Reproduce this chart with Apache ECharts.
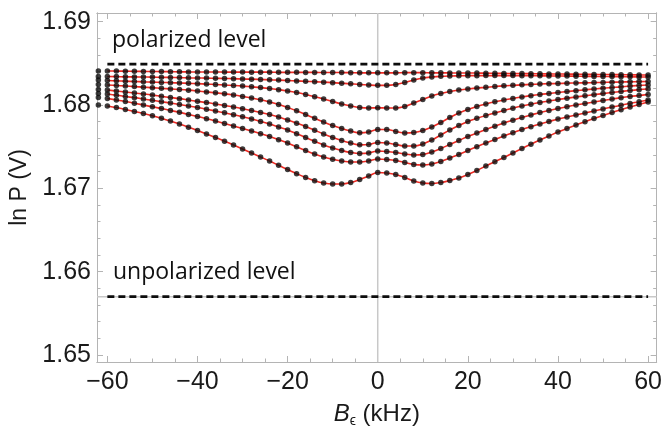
<!DOCTYPE html>
<html><head><meta charset="utf-8">
<script src="https://cdn.jsdelivr.net/npm/echarts@6/dist/echarts.min.js"></script>
<style>html,body{margin:0;padding:0;background:#fff}#c{width:665px;height:433px}</style>
</head><body><div id="c"></div>
<script>
// B_epsilon field values (kHz) of the data points
const fieldKHz = [-62,-60,-58,-56,-54,-52,-50,-48,-46,-44,-42,-40,-38,-36,-34,-32,-30,-28,-26,-24,-22,-20,-18,-16,-14,-12,-10,-8,-6,-4,-2,0,2,4,6,8,10,12,14,16,18,20,22,24,26,28,30,32,34,36,38,40,42,44,46,48,50,52,54,56,58,60,62];

// ln P (V) curves, top to bottom
const curveA = [1.68408,1.68408,1.68407,1.68406,1.68404,1.68403,1.68402,1.68401,1.68400,1.68398,1.68397,1.68396,1.68396,1.68396,1.68395,1.68395,1.68395,1.68394,1.68394,1.68394,1.68392,1.68392,1.68392,1.68391,1.68391,1.68390,1.68390,1.68389,1.68388,1.68386,1.68386,1.68386,1.68386,1.68386,1.68388,1.68388,1.68388,1.68386,1.68386,1.68385,1.68384,1.68384,1.68383,1.68382,1.68380,1.68379,1.68378,1.68377,1.68376,1.68374,1.68373,1.68372,1.68371,1.68370,1.68368,1.68367,1.68366,1.68365,1.68364,1.68362,1.68361,1.68360,1.68360];
const curveB = [1.68342,1.68342,1.68341,1.68338,1.68337,1.68336,1.68335,1.68332,1.68331,1.68329,1.68326,1.68324,1.68323,1.68320,1.68318,1.68316,1.68312,1.68310,1.68306,1.68302,1.68299,1.68294,1.68289,1.68284,1.68280,1.68274,1.68268,1.68262,1.68254,1.68246,1.68240,1.68236,1.68236,1.68246,1.68270,1.68300,1.68324,1.68336,1.68344,1.68348,1.68350,1.68352,1.68352,1.68353,1.68353,1.68353,1.68353,1.68352,1.68352,1.68350,1.68349,1.68348,1.68347,1.68346,1.68344,1.68343,1.68342,1.68341,1.68340,1.68338,1.68337,1.68336,1.68336];
const curveC = [1.68300,1.68294,1.68290,1.68286,1.68282,1.68278,1.68275,1.68271,1.68268,1.68264,1.68260,1.68256,1.68251,1.68246,1.68240,1.68234,1.68227,1.68218,1.68209,1.68198,1.68184,1.68168,1.68149,1.68126,1.68100,1.68072,1.68042,1.68012,1.67988,1.67970,1.67964,1.67966,1.67964,1.67964,1.67982,1.68024,1.68066,1.68108,1.68138,1.68162,1.68180,1.68192,1.68203,1.68212,1.68222,1.68230,1.68236,1.68242,1.68247,1.68252,1.68256,1.68258,1.68262,1.68264,1.68266,1.68269,1.68271,1.68274,1.68276,1.68278,1.68281,1.68282,1.68284];
const curveD = [1.68246,1.68240,1.68234,1.68228,1.68221,1.68214,1.68208,1.68200,1.68193,1.68186,1.68178,1.68168,1.68157,1.68146,1.68134,1.68120,1.68103,1.68084,1.68062,1.68036,1.68006,1.67970,1.67930,1.67886,1.67840,1.67796,1.67754,1.67718,1.67688,1.67666,1.67676,1.67706,1.67706,1.67682,1.67664,1.67670,1.67694,1.67736,1.67790,1.67850,1.67904,1.67946,1.67982,1.68012,1.68038,1.68060,1.68079,1.68096,1.68112,1.68126,1.68138,1.68150,1.68161,1.68172,1.68182,1.68192,1.68202,1.68210,1.68218,1.68228,1.68234,1.68240,1.68246];
const curveE = [1.68186,1.68180,1.68168,1.68156,1.68144,1.68132,1.68119,1.68104,1.68090,1.68076,1.68060,1.68044,1.68029,1.68012,1.67994,1.67976,1.67956,1.67934,1.67911,1.67886,1.67856,1.67820,1.67782,1.67742,1.67698,1.67652,1.67610,1.67574,1.67544,1.67522,1.67526,1.67550,1.67544,1.67526,1.67508,1.67508,1.67532,1.67580,1.67640,1.67700,1.67754,1.67802,1.67840,1.67874,1.67904,1.67934,1.67962,1.67988,1.68010,1.68030,1.68048,1.68066,1.68082,1.68096,1.68110,1.68124,1.68137,1.68150,1.68162,1.68174,1.68184,1.68192,1.68198];
const curveF = [1.68138,1.68132,1.68118,1.68102,1.68088,1.68072,1.68056,1.68040,1.68023,1.68006,1.67988,1.67970,1.67950,1.67928,1.67906,1.67884,1.67858,1.67832,1.67803,1.67772,1.67736,1.67700,1.67656,1.67610,1.67564,1.67520,1.67484,1.67454,1.67430,1.67418,1.67424,1.67448,1.67442,1.67430,1.67412,1.67400,1.67406,1.67436,1.67478,1.67526,1.67574,1.67622,1.67664,1.67706,1.67746,1.67784,1.67818,1.67850,1.67880,1.67910,1.67935,1.67958,1.67980,1.68000,1.68018,1.68036,1.68054,1.68072,1.68088,1.68102,1.68114,1.68126,1.68132];
const curveG = [1.68090,1.68078,1.68060,1.68042,1.68022,1.68000,1.67978,1.67958,1.67935,1.67912,1.67887,1.67862,1.67836,1.67808,1.67778,1.67748,1.67718,1.67688,1.67656,1.67622,1.67584,1.67544,1.67498,1.67454,1.67412,1.67376,1.67348,1.67328,1.67316,1.67316,1.67328,1.67352,1.67346,1.67334,1.67310,1.67286,1.67280,1.67292,1.67322,1.67364,1.67406,1.67454,1.67500,1.67544,1.67586,1.67628,1.67668,1.67706,1.67740,1.67772,1.67802,1.67832,1.67856,1.67880,1.67904,1.67928,1.67952,1.67976,1.67998,1.68018,1.68040,1.68060,1.68072];
const curveH = [1.68000,1.67988,1.67969,1.67946,1.67923,1.67898,1.67870,1.67840,1.67808,1.67772,1.67734,1.67694,1.67652,1.67610,1.67566,1.67520,1.67472,1.67424,1.67376,1.67328,1.67276,1.67226,1.67176,1.67130,1.67092,1.67064,1.67052,1.67052,1.67070,1.67106,1.67148,1.67190,1.67184,1.67166,1.67130,1.67088,1.67064,1.67058,1.67070,1.67094,1.67124,1.67166,1.67214,1.67268,1.67320,1.67370,1.67424,1.67478,1.67530,1.67580,1.67628,1.67676,1.67719,1.67760,1.67800,1.67838,1.67874,1.67910,1.67944,1.67976,1.68006,1.68036,1.68054];

const polarizedLevel = 1.6849;
const unpolarizedLevel = 1.6570;
const levelSpanKHz = [-60, 60];
const axisOriginY = 1.6570;

const xTicksMajor = [-60,-40,-20,0,20,40,60];
const xTicksMinor = [-55,-50,-45,-35,-30,-25,-15,-10,-5,5,10,15,25,30,35,45,50,55];
const yTicksMajor = [1.65,1.66,1.67,1.68,1.69];
const yTicksMinor = [1.652,1.654,1.656,1.658,1.662,1.664,1.666,1.668,1.672,1.674,1.676,1.678,1.682,1.684,1.686,1.688,1.69];

const curves = [curveA,curveB,curveC,curveD,curveE,curveF,curveG,curveH];
const XMIN = -62.3, XMAX = 61.9, YMIN = 1.64916, YMAX = 1.69104;
const frame = '#b4b4b4';
const zip = (xs, ys) => xs.map((x, i) => [x, ys[i]]);

const chart = echarts.init(document.getElementById('c'), null, {renderer:'canvas'});
const FF = 'Liberation Sans, Arial, sans-serif';
function xAx(pos, ticks, len, labels) {
  return {type:'value', min:XMIN, max:XMAX, position:pos,
    axisLine:{show:true, onZero:false, lineStyle:{color:frame, width:1}},
    axisTick:{show:true, inside:true, length:len, customValues:ticks, lineStyle:{color:frame}},
    axisLabel: labels ? {show:true, customValues:ticks, margin:8, fontFamily:FF, fontSize:25, color:'#1a1a1a',
      formatter:v => v < 0 ? '\u2212' + Math.abs(v) : String(v)} : {show:false},
    splitLine:{show:false}};
}
function yAx(pos, ticks, len, labels) {
  return {type:'value', min:YMIN, max:YMAX, position:pos,
    axisLine:{show:true, onZero:false, lineStyle:{color:frame, width:1}},
    axisTick:{show:true, inside:true, length:len, customValues:ticks, lineStyle:{color:frame}},
    axisLabel: labels ? {show:true, customValues:ticks, margin:6, fontFamily:FF, fontSize:25, color:'#1a1a1a',
      formatter:v => v.toFixed(2)} : {show:false},
    splitLine:{show:false}};
}
const xMain = xAx('bottom', xTicksMajor, 6, true);
xMain.name = '{i|B}{s|\u03f5} (kHz)';
xMain.nameLocation = 'middle';
xMain.nameGap = 35;
xMain.nameTextStyle = {fontFamily:FF, fontSize:24, color:'#1a1a1a', lineHeight:28,
  rich:{i:{fontStyle:'italic', fontSize:24, fontFamily:FF, color:'#1a1a1a', lineHeight:28},
        s:{fontSize:14, fontFamily:FF, color:'#1a1a1a', lineHeight:15, verticalAlign:'bottom'}}};
const yMain = yAx('left', yTicksMajor, 6, true);
yMain.name = 'ln P (V)';
yMain.nameLocation = 'middle';
yMain.nameGap = 63;
yMain.nameRotate = 90;
yMain.nameTextStyle = {fontFamily:FF, fontSize:23, color:'#1a1a1a'};

const series = [];
// Mathematica-style axes crossing at (0, axisOriginY)
series.push({type:'line', data:[[0, YMIN],[0, YMAX]], symbol:'none', silent:true, z:1,
  lineStyle:{color:'#c8c8c8', width:1.5}});
series.push({type:'line', data:[[XMIN, axisOriginY],[XMAX, axisOriginY]], symbol:'none', silent:true, z:1,
  lineStyle:{color:'#c8c8c8', width:1.5}});
curves.forEach(c => series.push({type:'line', data:zip(fieldKHz.slice(1,-1), c.slice(1,-1)),
  smooth:0.35, symbol:'none', silent:true, z:2, lineStyle:{color:'#ee2b24', width:1.6}}));
curves.forEach(c => series.push({type:'scatter', data:zip(fieldKHz, c), symbol:'circle',
  symbolSize:5.5, silent:true, z:3, itemStyle:{color:'#0d0d0d'}}));
[polarizedLevel, unpolarizedLevel].forEach(l => series.push({type:'line',
  data:[[levelSpanKHz[0], l],[levelSpanKHz[1], l]], symbol:'none', silent:true, z:4,
  lineStyle:{color:'#0d0d0d', width:2.6, type:[7,4]}}));

chart.setOption({
  animation:false,
  backgroundColor:'#ffffff',
  grid:{left:97, right:6, top:13, bottom:71, containLabel:false},
  xAxis:[xMain, xAx('bottom', xTicksMinor, 3.5, false), xAx('top', xTicksMajor, 6, false), xAx('top', xTicksMinor, 3.5, false)],
  yAxis:[yMain, yAx('left', yTicksMinor, 3.5, false), yAx('right', yTicksMajor, 6, false), yAx('right', yTicksMinor, 3.5, false)],
  graphic:[
    {type:'text', left:112, top:29, style:{text:'polarized level', font:'23px "Open Sans", sans-serif', fill:'#111'}},
    {type:'text', left:113, top:261, style:{text:'unpolarized level', font:'23px "Open Sans", sans-serif', fill:'#111'}}
  ],
  series:series
});
</script>
</body></html>
